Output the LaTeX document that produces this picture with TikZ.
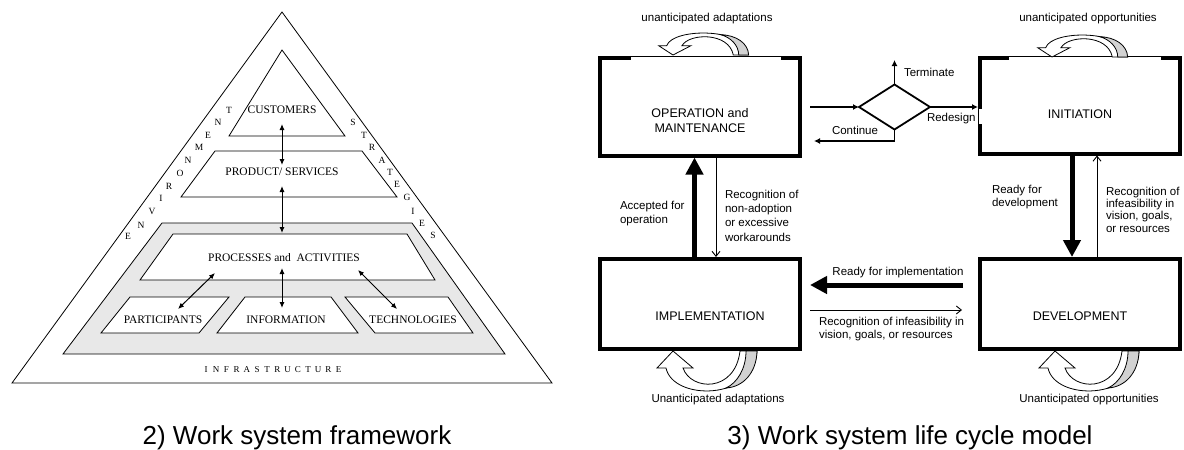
\documentclass[tikz,border=0pt]{standalone}
\usepackage{fontspec}
\setmainfont{Liberation Serif}
\newfontfamily\arialf{Liberation Sans}
\usetikzlibrary{arrows.meta,shapes.geometric}
\newcommand\drawcurvarrow{%
  \filldraw[fill=white, line width=0.8pt, line join=miter]
    (-7,17) .. controls (0,50) and (82,50) .. (84,0) -- (67,0)
    .. controls (62,42) and (18,40) .. (10,17) -- (20,17) -- (0,0) -- (-16,17) -- cycle;
  \filldraw[fill=gray!35, line width=0.8pt]
    (84,0) .. controls (83.5,22) and (70,36) .. (53,37)
    .. controls (64,32) and (73,18) .. (73,0) -- cycle;
}
\begin{document}
\begin{tikzpicture}[x=1pt,y=-1pt,
 every node/.style={inner sep=0pt, outer sep=0pt},
 pyr/.style={draw, line width=0.8pt, line join=miter},
 lbl/.style={font=\fontsize{11.5}{12}\selectfont},
 side/.style={font=\fontsize{9.5}{10}\selectfont},
 dbl/.style={line width=1pt, {Latex[length=6pt,width=5pt]}-{Latex[length=6pt,width=5pt]}},
 box/.style={draw, line width=4pt, rectangle, minimum width=200pt, inner sep=0pt, outer sep=2pt},
 boxtxt/.style={font=\arialf\fontsize{12.5}{15}\selectfont},
 small/.style={font=\arialf\fontsize{11.5}{13}\selectfont},
 thickarr/.style={line width=5pt, -{Triangle[length=17pt,width=17pt]}},
 thinarr/.style={line width=0.9pt, -{Straight Barb[length=5pt,width=8pt]}},
 darr/.style={line width=1.3pt, -{Latex[length=6pt,width=6pt]}},
 captxt/.style={font=\arialf\fontsize{26}{30}\selectfont}
]
\useasboundingbox (0,0) rectangle (1184,450);
\fill[white] (0,0) rectangle (1184,450);

% ---------------- left: work system framework ----------------
\draw[pyr] (282,12) -- (12,383) -- (552,383) -- cycle;
\draw[pyr] (282,50) -- (229,136) -- (345,136) -- cycle;
\draw[pyr] (215,151) -- (362,151) -- (397,197) -- (181,197) -- cycle;
\filldraw[pyr, fill=gray!18] (162,223) -- (412,223) -- (505,354) -- (63,354) -- cycle;
\filldraw[pyr, fill=white] (173,234) -- (407,234) -- (435,280) -- (140,280) -- cycle;
\filldraw[pyr, fill=white] (130,297) -- (229,297) -- (199,333) -- (101,333) -- cycle;
\filldraw[pyr, fill=white] (245,297) -- (331,297) -- (358,333) -- (217,333) -- cycle;
\filldraw[pyr, fill=white] (345,297) -- (448,297) -- (473,333) -- (375,333) -- cycle;

\node[lbl] (cust) at (282,110) {CUSTOMERS};
\node[lbl] (prod) at (282,172) {PRODUCT/ SERVICES};
\node[lbl] (proc) at (284,258) {PROCESSES and\ \ ACTIVITIES};
\node[lbl] (part) at (163,320) {PARTICIPANTS};
\node[lbl] (info) at (286,320) {INFORMATION};
\node[lbl] (tech) at (413,320) {TECHNOLOGIES};

\foreach \l/\x/\y [count=\i] in {E/128/236,N/141/225,V/152/211,I/161/198,R/169/186,O/180/173,N/188/160,M/199/147,E/208/135,N/218/122,T/229/110}
  \node[side] (env\i) at (\x,\y) {\l};
\foreach \l/\x/\y [count=\i] in {S/353/122,T/364/135,R/372/147,A/382/160,T/390/172,E/397/184,G/407/197,I/413/211,E/422/223,S/433/235}
  \node[side] (str\i) at (\x,\y) {\l};
\foreach \l [count=\i] in {I,N,F,R,A,S,T,R,U,C,T,U,R,E}
  \node[side, font=\fontsize{9}{10}\selectfont] (inf\i) at ({206+(\i-1)*10.2},370) {\l};

\coordinate (c1) at (282,124); \coordinate (c2) at (282,165);
\coordinate (c3) at (282,186); \coordinate (c4) at (282,233);
\coordinate (c5) at (282,268); \coordinate (c6) at (282,308);
\coordinate (c7) at (215,273); \coordinate (c8) at (178,309);
\coordinate (c9) at (358,270); \coordinate (c10) at (397,309);
\draw[dbl] (c1) -- (c2);
\draw[dbl] (c3) -- (c4);
\draw[dbl] (c5) -- (c6);
\draw[dbl] (c7) -- (c8);
\draw[dbl] (c9) -- (c10);

\node[captxt] (cap1) at (297,438) {2) Work system framework};

% ---------------- right: life cycle model ----------------
\node[box, minimum height=98pt] (op) at (700,106.5) {};
\node[box, minimum height=96pt] (init) at (1080,105.5) {};
\node[box, minimum height=90pt] (impl) at (700,304) {};
\node[box, minimum height=90pt] (dev) at (1080,304) {};

% thin parts of the borders
\draw[white, line width=4.6pt] (631,57.5) -- (781,57.5);
\draw[line width=1.4pt] (629,56.3) -- (783,56.3);
\draw[white, line width=4.6pt] (1009,57.5) -- (1161,57.5);
\draw[line width=1.4pt] (1007,56.3) -- (1163,56.3);
\draw[white, line width=4.6pt] (980,109) -- (980,124);
\draw[line width=1.4pt] (978.7,108) -- (978.7,125);

\node[boxtxt, align=center] (opt) at (700,121) {OPERATION and\\MAINTENANCE};
\node[boxtxt] (initt) at (1080,114) {INITIATION};
\node[boxtxt] (implt) at (710,316) {IMPLEMENTATION};
\node[boxtxt] (devt) at (1080,316) {DEVELOPMENT};

% curved arrows
\begin{scope}[shift={(673,55)}, xscale=0.9, yscale=-0.55] \drawcurvarrow \end{scope}
\begin{scope}[shift={(1052,57)}, xscale=0.9, yscale=-0.55] \drawcurvarrow \end{scope}
\begin{scope}[shift={(673,351)}] \drawcurvarrow \end{scope}
\begin{scope}[shift={(1055,351)}] \drawcurvarrow \end{scope}

\node[small] (ua) at (707,19) {unanticipated adaptations};
\node[small] (uo) at (1088,19) {unanticipated opportunities};
\node[small] (Ua) at (718,400) {Unanticipated adaptations};
\node[small] (Uo) at (1089,400) {Unanticipated opportunities};

% decision diamond
\node[diamond, draw, line width=1.8pt, minimum width=71pt, minimum height=45pt, inner sep=0pt] (dia) at (894.5,107) {};
\coordinate (opout) at (810,107);
\coordinate (term) at (894.5,60);
\coordinate (cont1) at (894.5,141);
\coordinate (cont2) at (814,141);
\draw[darr] (opout) -- (dia.west);
\draw[darr] (dia.north) -- (term);
\draw[darr] (dia.east) -- (dia.east -| init.west);
\draw[darr, line join=miter] (dia.south) -- (cont1) -- (cont2);
\node[small, anchor=west] (termt) at (904,72) {Terminate};
\node[small, anchor=west] (redt) at (927,119) {Redesign};
\node[small, anchor=west] (contt) at (832,130) {Continue};

% vertical arrows
\coordinate (xa) at (694.5,200); \coordinate (xb) at (716,200);
\coordinate (xc) at (1072,200);  \coordinate (xd) at (1097,200);
\draw[thickarr] (impl.north -| xa) -- (op.south -| xa);
\draw[thinarr] (op.south -| xb) -- (impl.north -| xb);
\draw[thickarr] (init.south -| xc) -- (dev.north -| xc);
\draw[thinarr] (dev.north -| xd) -- (init.south -| xd);

\node[small, anchor=west, align=left, font=\arialf\fontsize{11.5}{14}\selectfont] (acc) at (620,213.5) {Accepted for\\operation};
\node[small, anchor=west, align=left, font=\arialf\fontsize{11.5}{14.3}\selectfont] (recn) at (725,215.5) {Recognition of\\non-adoption\\or excessive\\workarounds};
\node[small, anchor=west, align=left, font=\arialf\fontsize{11.5}{12.3}\selectfont] (rfd) at (992,197) {Ready for\\development};
\node[small, anchor=west, align=left, font=\arialf\fontsize{11.5}{12.3}\selectfont] (reci) at (1106,209.5) {Recognition of\\infeasibility in\\vision, goals,\\or resources};

% horizontal arrows
\coordinate (h1) at (963,285); \coordinate (h2) at (810,285);
\coordinate (h3) at (810,310); \coordinate (h4) at (962,310);
\draw[thickarr] (h1) -- (h2);
\draw[thinarr] (h3) -- (h4);
\node[small] (rfi) at (898,273) {Ready for implementation};
\node[small, anchor=west, align=left, font=\arialf\fontsize{11.5}{13}\selectfont] (recb) at (819,329.5) {Recognition of infeasibility in\\vision, goals, or resources};

\node[captxt] (cap2) at (910,438) {3) Work system life cycle model};
\end{tikzpicture}
\end{document}
